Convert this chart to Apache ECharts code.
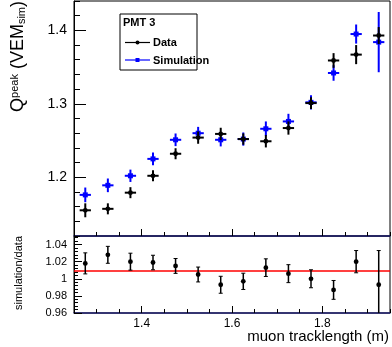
<!DOCTYPE html>
<html>
<head>
<meta charset="utf-8">
<script src="https://cdn.jsdelivr.net/npm/echarts@6/dist/echarts.min.js"></script>
<style>
html, body { margin: 0; padding: 0; background: #fff; }
#chart { width: 392px; height: 347px; }
</style>
</head>
<body>
<div id="chart"></div>
<script>
// bin centres (muon tracklength, m)
var binCenters = [1.275, 1.325, 1.375, 1.425, 1.475, 1.525, 1.575, 1.625, 1.675, 1.725, 1.775, 1.825, 1.875, 1.925];
var binHalf = 0.0125;

// Q peak, data
var dataY   = [1.155, 1.157, 1.179, 1.202, 1.232, 1.254, 1.259, 1.252, 1.249, 1.267, 1.301, 1.359, 1.367, 1.393];
var dataErr = [0.0095, 0.0075, 0.0075, 0.0075, 0.0075, 0.0084, 0.0084, 0.0077, 0.0084, 0.009, 0.008, 0.010, 0.013, 0.0115];

// Q peak, simulation
var simY   = [1.176, 1.189, 1.202, 1.225, 1.251, 1.260, 1.251, 1.252, 1.266, 1.276, 1.302, 1.342, 1.395, 1.384];
var simErr = [0.010, 0.0093, 0.0084, 0.0086, 0.0086, 0.0086, 0.009, 0.009, 0.010, 0.0104, 0.0098, 0.0106, 0.013, 0.041];

// ratio simulation/data
var ratioY   = [1.018, 1.028, 1.020, 1.019, 1.015, 1.005, 0.993, 0.997, 1.013, 1.006, 1.000, 0.987, 1.020, 0.993];
var ratioErr = [0.0123, 0.0099, 0.0099, 0.0085, 0.0087, 0.0087, 0.0099, 0.0095, 0.0103, 0.0105, 0.0105, 0.011, 0.013, 0.040];
var fitLevel = 1.009;

// axes
var xRange = [1.25, 1.95];
var topRange = [1.12, 1.44];
var ratioRange = [0.96, 1.05];
var xMajor = [1.4, 1.6, 1.8];
var topMajor = [1.2, 1.3, 1.4];
var ratioMajor = [0.96, 0.98, 1, 1.02, 1.04];

var FONT = '"Liberation Sans", Arial, Helvetica, sans-serif';
var NAVY = '#1e1e6e';

function pts(ys, errs, withX) {
    return binCenters.map(function (x, i) {
        return [x, ys[i], errs[i], withX ? binHalf : 0];
    });
}

// error bar + marker renderer
function errRender(color, shape, lw, caps) {
    return function (params, api) {
        var x = api.value(0), y = api.value(1), e = api.value(2), ex = api.value(3);
        var c = api.coord([x, y]);
        var t = api.coord([x, y + e]);
        var b = api.coord([x, y - e]);
        var kids = [{
            type: 'line',
            shape: { x1: c[0], y1: t[1], x2: c[0], y2: b[1] },
            style: { stroke: color, lineWidth: lw }
        }];
        if (caps) {
            kids.push({ type: 'line', shape: { x1: c[0] - 2, y1: t[1], x2: c[0] + 2, y2: t[1] }, style: { stroke: color, lineWidth: 1 } });
            kids.push({ type: 'line', shape: { x1: c[0] - 2, y1: b[1], x2: c[0] + 2, y2: b[1] }, style: { stroke: color, lineWidth: 1 } });
        }
        if (ex) {
            var l = api.coord([x - ex, y]), r = api.coord([x + ex, y]);
            kids.push({ type: 'line', shape: { x1: l[0], y1: c[1], x2: r[0], y2: c[1] }, style: { stroke: color, lineWidth: lw } });
        }
        if (shape === 'square') {
            kids.push({ type: 'rect', shape: { x: c[0] - 2.5, y: c[1] - 2.5, width: 5, height: 5 }, style: { fill: color } });
        } else {
            kids.push({ type: 'circle', shape: { cx: c[0], cy: c[1], r: 2.4 }, style: { fill: color } });
        }
        return { type: 'group', children: kids };
    };
}

function majorFmt(d) {
    return function (v) { return String(parseFloat(v.toFixed(d))); };
}

var myChart = echarts.init(document.getElementById('chart'));

var option = {
    animation: false,
    backgroundColor: '#fff',
    grid: [
        { left: 74, top: 1, width: 316, height: 235, show: true, borderColor: '#000', borderWidth: 1 },
        { left: 74, top: 236, width: 316, height: 77, show: true, borderColor: '#000', borderWidth: 1 }
    ],
    xAxis: [
        { gridIndex: 0, type: 'value', min: xRange[0], max: xRange[1], interval: 0.05,
          axisLine: { lineStyle: { color: NAVY, width: 1.5 } },
          axisTick: { inside: true, length: 4, lineStyle: { color: '#000' } },
          axisLabel: { show: false }, splitLine: { show: false } },
        { gridIndex: 0, type: 'value', position: 'bottom', min: xRange[0], max: xRange[1],
          axisLine: { show: false },
          axisTick: { inside: true, length: 7, customValues: xMajor, lineStyle: { color: '#000' } },
          axisLabel: { show: false }, splitLine: { show: false } },
        { gridIndex: 1, type: 'value', min: xRange[0], max: xRange[1], interval: 0.05,
          axisLine: { lineStyle: { color: NAVY, width: 1.5 } },
          axisTick: { inside: true, length: 4, lineStyle: { color: '#000' } },
          axisLabel: { show: false }, splitLine: { show: false } },
        { gridIndex: 1, type: 'value', position: 'bottom', min: xRange[0], max: xRange[1],
          axisLine: { show: false },
          axisTick: { inside: true, length: 7, customValues: xMajor, lineStyle: { color: '#000' } },
          axisLabel: { customValues: xMajor, formatter: majorFmt(1), fontFamily: FONT, fontSize: 12, color: '#000', margin: 5 },
          splitLine: { show: false } }
    ],
    yAxis: [
        { gridIndex: 0, type: 'value', min: topRange[0], max: topRange[1], interval: 0.02,
          axisLine: { show: true, lineStyle: { color: '#000' } },
          axisTick: { inside: true, length: 6, lineStyle: { color: '#000' } },
          axisLabel: { show: false }, splitLine: { show: false } },
        { gridIndex: 0, type: 'value', position: 'left', min: topRange[0], max: topRange[1],
          axisLine: { show: false },
          axisTick: { inside: true, length: 12, customValues: topMajor, lineStyle: { color: '#000' } },
          axisLabel: { customValues: topMajor, formatter: majorFmt(1), fontFamily: FONT, fontSize: 14, color: '#000', margin: 7 },
          splitLine: { show: false } },
        { gridIndex: 1, type: 'value', min: ratioRange[0], max: ratioRange[1], interval: 0.004,
          axisLine: { show: true, lineStyle: { color: '#000' } },
          axisTick: { inside: true, length: 4, lineStyle: { color: '#000' } },
          axisLabel: { show: false }, splitLine: { show: false } },
        { gridIndex: 1, type: 'value', position: 'left', min: ratioRange[0], max: ratioRange[1],
          axisLine: { show: false },
          axisTick: { inside: true, length: 8, customValues: ratioMajor, lineStyle: { color: '#000' } },
          axisLabel: { customValues: ratioMajor, formatter: majorFmt(2), fontFamily: FONT, fontSize: 11, color: '#000', margin: 7 },
          splitLine: { show: false } }
    ],
    series: [
        { name: 'Simulation', type: 'custom', xAxisIndex: 0, yAxisIndex: 0, clip: true,
          renderItem: errRender('#0000ff', 'square', 2, false),
          encode: { x: 0, y: 1 }, data: pts(simY, simErr, true), z: 3 },
        { name: 'Data', type: 'custom', xAxisIndex: 0, yAxisIndex: 0, clip: true,
          renderItem: errRender('#000', 'circle', 2, false),
          encode: { x: 0, y: 1 }, data: pts(dataY, dataErr, true), z: 4 },
        { name: 'fit', type: 'line', xAxisIndex: 2, yAxisIndex: 2, symbol: 'none',
          lineStyle: { color: '#ff0000', width: 1.5 },
          data: [[xRange[0], fitLevel], [xRange[1], fitLevel]], z: 3 },
        { name: 'ratio', type: 'custom', xAxisIndex: 2, yAxisIndex: 2, clip: true,
          renderItem: errRender('#000', 'circle', 1.5, true),
          encode: { x: 0, y: 1 }, data: pts(ratioY, ratioErr, false), z: 4 }
    ],
    graphic: [
        // legend box
        { type: 'rect', shape: { x: 120, y: 14, width: 77, height: 56 }, style: { fill: '#fff', stroke: '#000', lineWidth: 1 }, z: 10 },
        { type: 'text', x: 123, y: 23, style: { text: 'PMT 3', font: 'bold 11px ' + FONT, fill: '#000', verticalAlign: 'middle' }, z: 11 },
        { type: 'line', shape: { x1: 125, y1: 42.5, x2: 150, y2: 42.5 }, style: { stroke: '#000', lineWidth: 1.2 }, z: 11 },
        { type: 'circle', shape: { cx: 137.5, cy: 42.5, r: 2 }, style: { fill: '#000' }, z: 11 },
        { type: 'text', x: 153, y: 43, style: { text: 'Data', font: 'bold 11px ' + FONT, fill: '#000', verticalAlign: 'middle' }, z: 11 },
        { type: 'line', shape: { x1: 125, y1: 60, x2: 150, y2: 60 }, style: { stroke: '#0000ff', lineWidth: 1.2 }, z: 11 },
        { type: 'rect', shape: { x: 135.5, y: 58, width: 4, height: 4 }, style: { fill: '#0000ff' }, z: 11 },
        { type: 'text', x: 153, y: 60.5, style: { text: 'Simulation', font: 'bold 11px ' + FONT, fill: '#000', verticalAlign: 'middle' }, z: 11 },
        // axis titles
        { type: 'text', x: 27, y: 1, rotation: Math.PI / 2,
          style: { text: '{q|Q}{s|peak}{n| (VEM}{b|sim}{n|)}', align: 'right', verticalAlign: 'bottom',
                   rich: { q: { fontFamily: FONT, fontSize: 18, fill: '#000' },
                           n: { fontFamily: FONT, fontSize: 18, fill: '#000' },
                           s: { fontFamily: FONT, fontSize: 11, fill: '#000', verticalAlign: 'top' },
                           b: { fontFamily: FONT, fontSize: 11, fill: '#000', verticalAlign: 'bottom' } } } },
        { type: 'text', x: 24, y: 273, rotation: Math.PI / 2,
          style: { text: 'simulation/data', fontFamily: FONT, fontSize: 11, fill: '#000', align: 'center', verticalAlign: 'bottom' } },
        { type: 'text', x: 389, y: 337,
          style: { text: 'muon tracklength (m)', fontFamily: FONT, fontSize: 15, fill: '#000', align: 'right', verticalAlign: 'middle' } }
    ]
};

myChart.setOption(option);
</script>
</body>
</html>
